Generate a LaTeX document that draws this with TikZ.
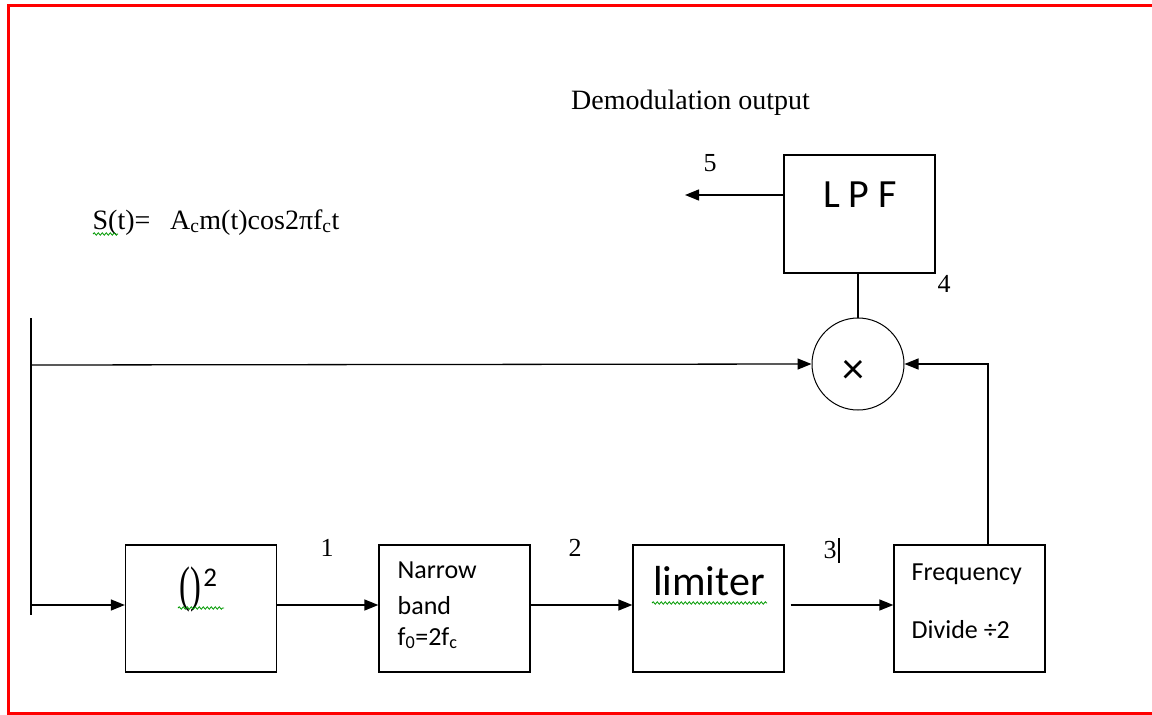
\documentclass[tikz,border=0pt]{standalone}
\usepackage{fontspec}
\setmainfont{Liberation Serif}
\newfontfamily\calibri{Carlito}
\usepackage{tikz}
\usetikzlibrary{arrows.meta, positioning, decorations.pathmorphing}

\begin{document}
\begin{tikzpicture}[
    x=1pt, y=-1pt,
    line width=1.3pt,
    blockbox/.style={draw, minimum width=151pt, minimum height=127pt, inner sep=0pt},
    mixer/.style={draw, circle, line width=1pt, minimum size=92pt, inner sep=0pt},
    numlbl/.style={font=\fontsize{26}{26}\selectfont, inner sep=0pt, anchor=base},
    boxtxt/.style={font=\calibri\fontsize{26}{26}\selectfont, inner sep=0pt, anchor=base west},
    sig/.style={-{Triangle[length=14pt, width=11pt]}},
    spellmark/.style={draw=green!60!black, line width=0.8pt, decorate,
        decoration={snake, amplitude=1.2pt, segment length=4pt}}
]

\clip (0,0) rectangle (1152,715);
\draw[red, line width=3pt] (8,5.5) rectangle (1175,713);

\node[font=\fontsize{28}{28}\selectfont, inner sep=0pt, anchor=base] (title) at (690.5,109) {Demodulation output};
\node[font=\fontsize{28}{28}\selectfont, inner sep=0pt, anchor=base west] (signal) at (92,229)
    {S(t)=\hspace{0.7em}A\textsubscript{c}m(t)cos2πf\textsubscript{c}t};

\node[blockbox] (sq) at (201,608.5) {};
\node[blockbox] (nbf) at (454.5,608.5) {};
\node[blockbox] (lim) at (708.5,608.5) {};
\node[blockbox] (fdiv) at (969.5,608.5) {};
\node[blockbox, minimum height=118pt] (lpf) at (859.5,214) {};
\node[mixer] (mix) at (858,364) {};

\node[inner sep=0pt, anchor=base west] (sqtxt) at (179,601)
    {\scalebox{0.65}[1]{\fontsize{50}{50}\selectfont()}\hspace{2pt}\raisebox{15pt}{\calibri\fontsize{27}{27}\selectfont 2}};
\node[boxtxt] (nbf1) at (397,578) {Narrow};
\node[boxtxt] (nbf2) at (397,614) {band};
\node[boxtxt] (nbf3) at (397,645) {f\textsubscript{0}=2f\textsubscript{c}};
\node[font=\calibri\fontsize{42}{42}\selectfont, inner sep=0pt, anchor=base] (limtxt) at (709,595) {limiter};
\node[boxtxt] (fdiv1) at (911,580) {Frequency};
\node[boxtxt] (fdiv2) at (911,638) {Divide ÷2};
\node[font=\calibri\fontsize{40}{40}\selectfont, inner sep=0pt, anchor=base] (lpftxt) at (860,207) {L P F};
\node[font=\calibri\fontsize{44}{44}\selectfont, inner sep=0pt] (mixtxt) at (853,372) {×};

\node[numlbl] (n1) at (327,556) {1};
\node[numlbl] (n2) at (575,556) {2};
\node[numlbl] (n3) at (830,558) {3};
\node[numlbl] (n4) at (944,292) {4};
\node[numlbl] (n5) at (710,171) {5};
\draw[line width=2.5pt] (839,538) -- (839,563);

\draw[spellmark] (93,234) -- (118,234);
\draw[spellmark] (178,608) -- (224,608);
\draw[spellmark] (652,603) -- (767,603);

\coordinate (top) at (31,318);
\coordinate (bot) at (31,615);
\coordinate (split) at (31,365);
\coordinate (in) at (31,605);
\coordinate (out) at (685,195);

\draw (top) -- (bot);
\draw[sig] (split) -- (mix.west);
\draw[sig] (in) -- (sq.west |- in);
\draw[sig] (sq.east |- in) -- (nbf.west |- in);
\draw[sig] (nbf.east |- in) -- (lim.west |- in);
\draw[sig] ([xshift=6pt]lim.east |- in) -- (fdiv.west |- in);
\draw[sig] ([xshift=18.5pt]fdiv.north) |- (mix.east);
\draw (mix.north) -- (mix.north |- lpf.south);
\draw[sig] (lpf.west |- out) -- (out);

\end{tikzpicture}
\end{document}
